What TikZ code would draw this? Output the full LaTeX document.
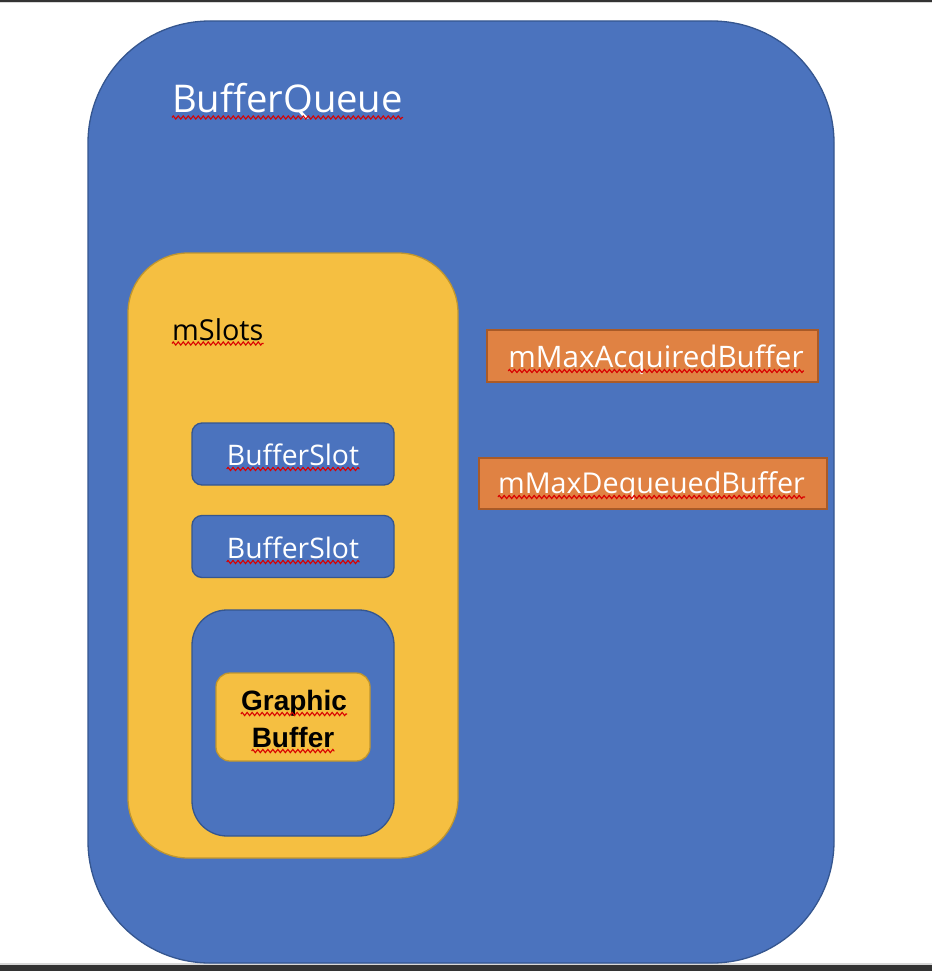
\documentclass[tikz,border=0pt]{standalone}
\usepackage{fontspec}
\newfontfamily\lblfont{Open Sans}
\newfontfamily\gbfont{Liberation Sans}
\usetikzlibrary{decorations.pathmorphing}
\definecolor{qblue}{HTML}{4B73BE}
\definecolor{qblueline}{HTML}{35568F}
\definecolor{qyellow}{HTML}{F5BF41}
\definecolor{qyellowline}{HTML}{C0962E}
\definecolor{qorange}{HTML}{E08243}
\definecolor{qorangeline}{HTML}{A95A27}
\definecolor{bardark}{HTML}{333333}
\definecolor{barlight}{HTML}{D8D8D8}
\tikzset{
  bluebox/.style={draw=qblueline, fill=qblue, line width=1.3pt, inner sep=0pt},
  yellowbox/.style={draw=qyellowline, fill=qyellow, line width=1.3pt, inner sep=0pt},
  orangebox/.style={draw=qorangeline, fill=qorange, line width=1.3pt, inner sep=0pt},
  lbl/.style={inner sep=0pt, font=\lblfont},
  squig/.style={draw=red!85!black, line width=1.1pt, decorate,
    decoration={zigzag, amplitude=1.6pt, segment length=5pt}},
}
\begin{document}
\begin{tikzpicture}[x=1pt,y=-1pt]
\useasboundingbox (0,0) rectangle (932,971);
\fill[white] (0,0) rectangle (932,971);
% window bars
\fill[bardark] (0,0) rectangle (932,2);
\fill[barlight] (0,2) rectangle (932,3.5);
\fill[barlight] (0,963) rectangle (932,965);
\fill[bardark] (0,965) rectangle (932,971);

% BufferQueue outer
\node[bluebox, rounded corners=122pt, minimum width=746pt, minimum height=942pt] (bq) at (461,492) {};
\node[lbl, text=white, anchor=base west, font=\lblfont\fontsize{38.2}{44}\selectfont] (tbq) at (172,113) {BufferQueue};

% mSlots
\node[yellowbox, rounded corners=60pt, minimum width=330pt, minimum height=605pt] (slots) at (293,555.5) {};
\node[lbl, text=black, anchor=base west, font=\lblfont\fontsize{28.8}{32}\selectfont] (tslots) at (172,340) {mSlots};

% BufferSlots
\node[bluebox, rounded corners=10pt, minimum width=202pt, minimum height=62pt] (slot1) at (293,454) {};
\node[lbl, text=white, anchor=base, font=\lblfont\fontsize{28.3}{32}\selectfont] (tslot1) at (293,465) {BufferSlot};
\node[bluebox, rounded corners=10pt, minimum width=202pt, minimum height=62pt] (slot2) at (293,546.5) {};
\node[lbl, text=white, anchor=base, font=\lblfont\fontsize{28.3}{32}\selectfont] (tslot2) at (293,558) {BufferSlot};

% third slot with GraphicBuffer
\node[bluebox, rounded corners=35pt, minimum width=202pt, minimum height=226pt] (slot3) at (293,723) {};
\node[yellowbox, rounded corners=14pt, minimum width=154pt, minimum height=88pt] (gb) at (293,717) {};
\node[inner sep=0pt, anchor=base, text=black, font=\gbfont\bfseries\fontsize{28}{32}\selectfont] (tgb1) at (294,710) {Graphic};
\node[inner sep=0pt, anchor=base, text=black, font=\gbfont\bfseries\fontsize{28}{32}\selectfont] (tgb2) at (293,747) {Buffer};

% orange fields
\node[orangebox, minimum width=331pt, minimum height=52pt] (acq) at (652.5,356) {};
\node[lbl, text=white, anchor=base, font=\lblfont\fontsize{29.6}{34}\selectfont] (tacq) at (656,367) {mMaxAcquiredBuffer};
\node[orangebox, minimum width=348pt, minimum height=51pt] (deq) at (653,483.5) {};
\node[lbl, text=white, anchor=base, font=\lblfont\fontsize{28.7}{34}\selectfont] (tdeq) at (651.5,493) {mMaxDequeuedBuffer};

% spell-check squiggles
\foreach \t/\d in {tbq/4.5, tslots/3.5, tslot1/4, tslot2/4, tacq/4, tdeq/4, tgb1/4, tgb2/4}{
  \draw[squig] ([yshift=-\d pt]\t.base west) -- ([yshift=-\d pt]\t.base east);
}
\end{tikzpicture}
\end{document}
